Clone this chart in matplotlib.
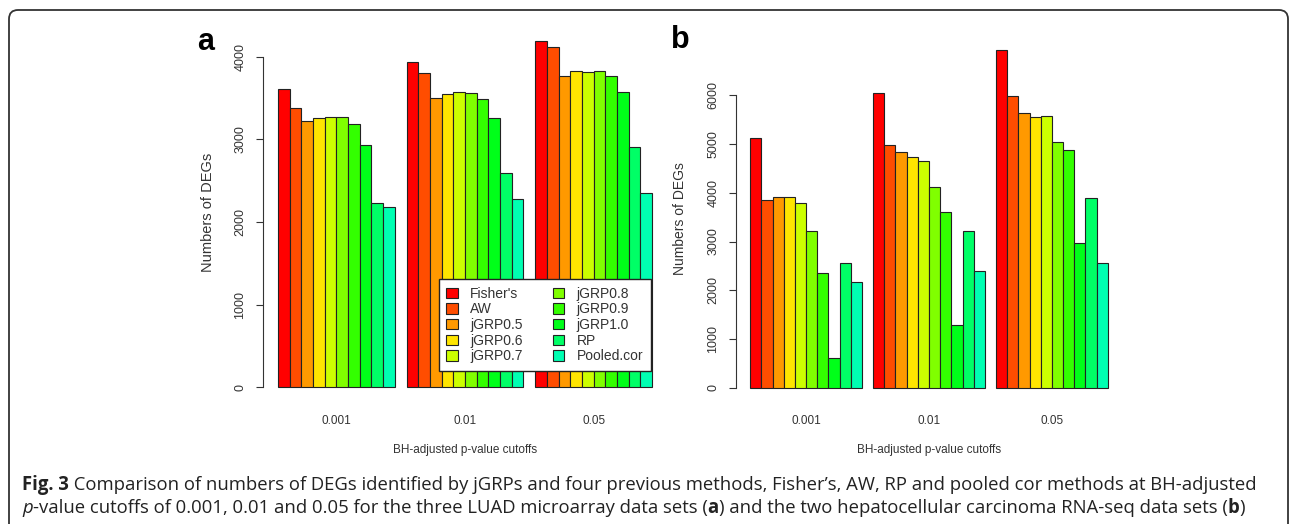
import numpy as np
import matplotlib
matplotlib.use("Agg")
import matplotlib.pyplot as plt
from matplotlib.patches import FancyBboxPatch, Patch

plt.rcParams["font.family"] = ["Liberation Sans", "DejaVu Sans"]

methods = ["Fisher's", "AW", "jGRP0.5", "jGRP0.6", "jGRP0.7",
           "jGRP0.8", "jGRP0.9", "jGRP1.0", "RP", "Pooled.cor"]
colors = ["#FF0000", "#FF4D00", "#FF9900", "#FFE500", "#CCFF00",
          "#80FF00", "#33FF00", "#00FF19", "#00FF66", "#00FFB2"]
cutoffs = ["0.001", "0.01", "0.05"]

# panel a: LUAD microarray, rows = cutoffs
luad = [
    [3616, 3386, 3220, 3261, 3273, 3273, 3188, 2937, 2234, 2178],
    [3939, 3810, 3507, 3547, 3576, 3560, 3491, 3265, 2598, 2275],
    [4194, 4125, 3774, 3830, 3818, 3830, 3774, 3576, 2909, 2347],
]
# panel b: hepatocellular carcinoma RNA-seq
hcc = [
    [5110, 3850, 3920, 3920, 3784, 3218, 2352, 614, 2557, 2161],
    [6048, 4970, 4834, 4739, 4657, 4118, 3614, 1289, 3218, 2400],
    [6922, 5980, 5638, 5543, 5570, 5031, 4874, 2963, 3897, 2553],
]

W, H = 1290, 524
fig = plt.figure(figsize=(W / 100, H / 100), dpi=100)


def rbarplot(ax, data, yticks):
    nb = len(methods)
    for g, row in enumerate(data):
        left = 1 + g * (nb + 1) + np.arange(nb)
        ax.bar(left, row, width=1, align="edge", color=colors,
               edgecolor="#222222", linewidth=0.8, zorder=2)
    n = len(data) * (nb + 1)
    ax.set_xlim(1 - 0.04 * (n - 1), n + 0.04 * (n - 1))
    ymax = max(max(r) for r in data)
    ax.set_ylim(-0.04 * ymax, 1.04 * ymax)
    for s in ["top", "right", "bottom"]:
        ax.spines[s].set_visible(False)
    ax.spines["left"].set_bounds(0, yticks[-1])
    ax.spines["left"].set_color("#333333")
    ax.set_yticks(yticks)
    ax.set_yticklabels([str(t) for t in yticks], rotation=90, va="center",
                       fontsize=9, color="#333333")
    ax.tick_params(axis="y", length=5, width=0.8, pad=7, color="#333333")
    centers = [1 + g * (nb + 1) + nb / 2 for g in range(len(data))]
    ax.set_xticks(centers)
    ax.set_xticklabels(cutoffs, fontsize=8.5, color="#333333")
    ax.tick_params(axis="x", length=0, pad=10)
    ax.set_xlabel("BH-adjusted p-value cutoffs", fontsize=8.5, color="#333333",
                  labelpad=12)
    ax.set_facecolor("none")


ax_a = fig.add_axes([263 / W, 1 - 401 / H, 404 / W, 374 / H])
rbarplot(ax_a, luad, [0, 1000, 2000, 3000, 4000])
ax_b = fig.add_axes([736 / W, 1 - 401.5 / H, 386 / W, 365 / H])
rbarplot(ax_b, hcc, [0, 1000, 2000, 3000, 4000, 5000, 6000])

fig.text(208 / W, 1 - 212 / H, "Numbers of DEGs", rotation=90,
         ha="center", va="center", fontsize=10.5, color="#333333")
fig.text(680 / W, 1 - 219 / H, "Numbers of DEGs", rotation=90,
         ha="center", va="center", fontsize=10, color="#333333")
fig.text(206 / W, 1 - 42 / H, "a", fontsize=22, fontweight="bold",
         ha="center", va="center")
fig.text(680 / W, 1 - 40 / H, "b", fontsize=22, fontweight="bold",
         ha="center", va="center")

handles = [Patch(facecolor=c, edgecolor="#222222", linewidth=0.8)
           for c in colors]
leg = fig.legend(handles, methods, loc="upper right",
                 bbox_to_anchor=(651 / W, 1 - 279 / H), ncol=2,
                 fontsize=10, frameon=True, fancybox=False,
                 edgecolor="#222222", framealpha=1, labelspacing=0.12,
                 handlelength=0.8, handleheight=0.8, handletextpad=0.9,
                 columnspacing=2.2, borderpad=0.55, borderaxespad=0)
leg.get_frame().set_linewidth(1.0)
for t in leg.get_texts():
    t.set_color("#333333")

# outer rounded frame
frame = FancyBboxPatch((9, -40), 1279, 554, boxstyle="round,pad=0,rounding_size=9",
                       transform=None, facecolor="none", edgecolor="#333333",
                       linewidth=1.3)
fig.patches.append(frame)

# caption with mixed styles
cap_font = ["Open Sans", "DejaVu Sans"]
line1 = [("Fig. 3", "bold", "normal"),
         (" Comparison of numbers of DEGs identified by jGRPs and four previous "
          "methods, Fisher\u2019s, AW, RP and pooled cor methods at BH-adjusted",
          "normal", "normal")]
line2 = [("p", "normal", "italic"),
         ("-value cutoffs of 0.001, 0.01 and 0.05 for the three LUAD microarray "
          "data sets (", "normal", "normal"),
         ("a", "bold", "normal"),
         (") and the two hepatocellular carcinoma RNA-seq data sets (",
          "normal", "normal"),
         ("b", "bold", "normal"),
         (")", "normal", "normal")]

renderer = fig.canvas.get_renderer()


def draw_runs(runs, x0, y0, size):
    x = x0
    for txt, weight, style in runs:
        t = fig.text(x / W, 1 - y0 / H, txt, fontsize=size, fontweight=weight,
                     fontstyle=style, family=cap_font, color="#222222",
                     va="center", ha="left")
        bb = t.get_window_extent(renderer=renderer)
        x += bb.width


draw_runs(line1, 22, 485, 13.35)
draw_runs(line2, 22, 508, 13.35)

fig.savefig("out.png", dpi=100)
